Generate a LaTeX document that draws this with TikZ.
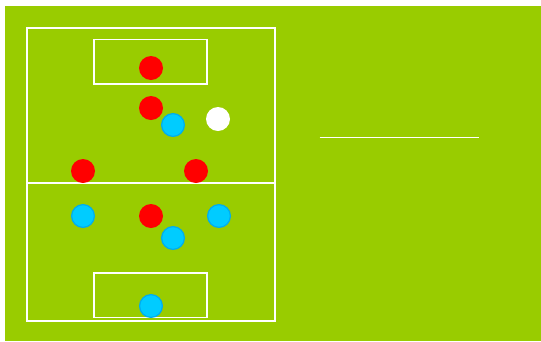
\documentclass[tikz,border=0pt]{standalone}
\begin{document}
\begin{tikzpicture}[x=1pt,y=-1pt,
  fieldline/.style={draw=white,line width=1.6pt},
  redp/.style={circle,fill=red,minimum size=24pt,inner sep=0pt},
  bluep/.style={circle,fill=cyan!80!blue!70!cyan,draw=cyan,line width=1.2pt,minimum size=22.8pt,inner sep=0pt},
  ballp/.style={circle,fill=white,minimum size=24pt,inner sep=0pt}]
\definecolor{pitch}{HTML}{99CC00}
\definecolor{bluefill}{HTML}{00CCFF}
\tikzset{bluep/.style={circle,fill=bluefill,draw=cyan,line width=1.2pt,minimum size=22.8pt,inner sep=0pt}}
\useasboundingbox (0,0) rectangle (541,341);
\fill[white] (0,0) rectangle (541,341);
\fill[pitch] (5,6) rectangle (541,341);
\draw[fieldline] (27,28) rectangle (275,321);
\draw[fieldline] (27,183) -- (275,183);
\draw[fieldline] (94,39.5) rectangle (207,84);
\draw[fieldline] (94,273) rectangle (207,317.5);
\coordinate (l1) at (319.5,137.5);
\coordinate (l2) at (479,137.5);
\draw[fieldline] (l1) -- (l2);
\node[redp] (r1) at (151,68) {};
\node[redp] (r2) at (151,108) {};
\node[redp] (r3) at (83,171) {};
\node[redp] (r4) at (196,171) {};
\node[redp] (r5) at (151,216) {};
\node[bluep] (b1) at (173,125) {};
\node[bluep] (b2) at (83,216) {};
\node[bluep] (b3) at (219,216) {};
\node[bluep] (b4) at (173,238) {};
\node[bluep] (b5) at (151,306) {};
\node[ballp] (ball) at (218,119) {};
\end{tikzpicture}
\end{document}
